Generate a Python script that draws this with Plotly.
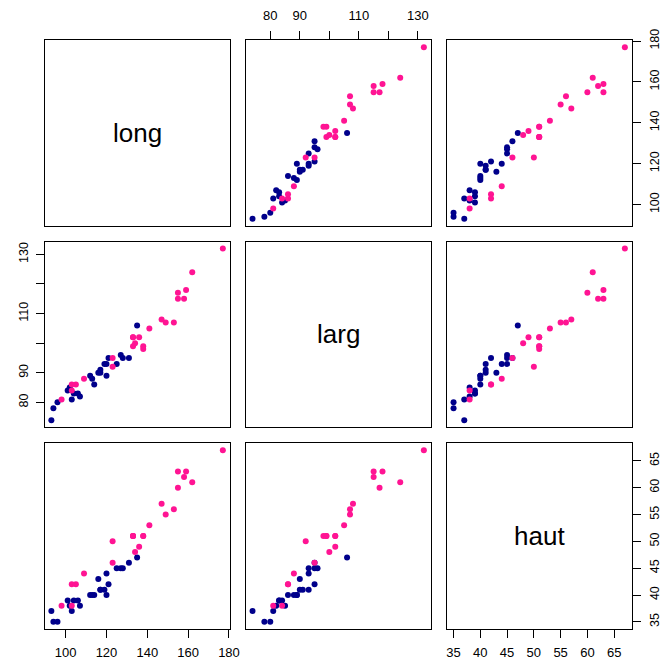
import plotly.graph_objects as go

# Painted turtles: females (pink) and males (navy)
f_long = [98, 103, 103, 105, 109, 123, 123, 133, 133, 133, 134, 136, 138, 138, 141, 147, 149, 153, 155, 155, 158, 159, 162, 177]
f_larg = [81, 84, 86, 86, 88, 92, 95, 99, 102, 102, 100, 102, 98, 99, 105, 108, 107, 107, 115, 117, 115, 118, 124, 132]
f_haut = [38, 38, 42, 42, 44, 50, 46, 51, 51, 51, 48, 49, 51, 51, 53, 57, 55, 56, 63, 60, 62, 63, 61, 67]

m_long = [93, 94, 96, 101, 102, 103, 104, 106, 107, 112, 113, 114, 116, 117, 117, 119, 120, 120, 121, 125, 127, 128, 131, 135]
m_larg = [74, 78, 80, 84, 85, 81, 83, 83, 82, 89, 88, 86, 90, 90, 91, 93, 89, 93, 95, 93, 96, 95, 95, 106]
m_haut = [37, 35, 35, 39, 38, 37, 39, 39, 38, 40, 40, 40, 43, 41, 41, 41, 40, 44, 42, 45, 45, 45, 46, 47]

var_names = ["long", "larg", "haut"]
tick_vals = {
    "long": [100, 120, 140, 160, 180],
    "larg": [80, 90, 100, 110, 120, 130],
    "haut": [35, 40, 45, 50, 55, 60, 65],
}
tick_text = {
    "long": ["100", "120", "140", "160", "180"],
    "larg": ["80", "90", "", "110", "", "130"],
    "haut": ["35", "40", "45", "50", "55", "60", "65"],
}

F = {"long": f_long, "larg": f_larg, "haut": f_haut}
M = {"long": m_long, "larg": m_larg, "haut": m_haut}

PINK = "#FF1493"
NAVY = "#00008B"
FONT = "Liberation Sans, Arial, Helvetica, sans-serif"


def rng(v):
    allv = F[v] + M[v]
    lo, hi = min(allv), max(allv)
    pad = 0.04 * (hi - lo)
    return [lo - pad, hi + pad]


W, H = 662, 660
col_px = [(44.5, 229.7), (245.7, 430.7), (446.7, 631.7)]
row_px = [(40.3, 225.7), (241.6, 427.0), (443.3, 628.7)]

fig = go.Figure()
layout = dict(
    width=W, height=H,
    margin=dict(l=0, r=0, t=0, b=0, autoexpand=False),
    paper_bgcolor="white", plot_bgcolor="white",
    showlegend=False,
    font=dict(family=FONT, size=13, color="black"),
)

annotations = []
for r in range(3):
    for c in range(3):
        k = r * 3 + 1 + c
        xs = "" if k == 1 else str(k)
        xv, yv = var_names[c], var_names[r]
        xd = [col_px[c][0] / W, col_px[c][1] / W]
        yd = [1 - row_px[r][1] / H, 1 - row_px[r][0] / H]
        xa = dict(domain=xd, range=rng(xv), anchor="y" + xs, automargin=False,
                  showline=True, mirror=True, linecolor="black", linewidth=1,
                  showgrid=False, zeroline=False, showticklabels=False, ticks="")
        ya = dict(domain=yd, range=rng(yv), anchor="x" + xs, automargin=False,
                  showline=True, mirror=True, linecolor="black", linewidth=1,
                  showgrid=False, zeroline=False, showticklabels=False, ticks="")
        tick_common = dict(ticks="outside", ticklen=8, tickwidth=1, tickcolor="black",
                           showticklabels=True, tickmode="array",
                           tickfont=dict(family=FONT, size=13, color="black"))
        # x axis ticks
        if (r == 2 and c in (0, 2)) or (r == 0 and c == 1):
            xa.update(tick_common)
            xa.update(tickvals=tick_vals[xv], ticktext=tick_text[xv],
                      side="bottom" if r == 2 else "top", tickangle=0,
                      ticklabelstandoff=4 if r == 2 else 6)
        # y axis ticks
        if (c == 2 and r in (0, 2)) or (c == 0 and r == 1):
            ya.update(tick_common)
            ya.update(tickvals=tick_vals[yv], ticktext=tick_text[yv],
                      side="right" if c == 2 else "left", tickangle=-90,
                      ticklabelstandoff=3)
            ya["tickfont"] = dict(family=FONT, size=12.5, color="black")
        layout["xaxis" + xs] = xa
        layout["yaxis" + xs] = ya

        if r == c:
            annotations.append(dict(
                x=(xd[0] + xd[1]) / 2, y=(yd[0] + yd[1]) / 2,
                xref="paper", yref="paper", text=var_names[r], showarrow=False,
                font=dict(family=FONT, size=26, color="black"),
                xanchor="center", yanchor="middle"))
            # invisible trace so that the panel box and axes are drawn
            fig.add_trace(go.Scatter(
                x=[sum(rng(xv)) / 2], y=[sum(rng(yv)) / 2], mode="markers",
                xaxis="x" + xs, yaxis="y" + xs,
                marker=dict(opacity=0, size=1), hoverinfo="skip"))
        else:
            fig.add_trace(go.Scatter(
                x=M[xv], y=M[yv], mode="markers", xaxis="x" + xs, yaxis="y" + xs,
                marker=dict(color=NAVY, size=6, line=dict(width=0)),
                hoverinfo="skip"))
            fig.add_trace(go.Scatter(
                x=F[xv], y=F[yv], mode="markers", xaxis="x" + xs, yaxis="y" + xs,
                marker=dict(color=PINK, size=6, line=dict(width=0)),
                hoverinfo="skip"))

layout["annotations"] = annotations
fig.update_layout(**layout)
fig.write_html("out.html")
